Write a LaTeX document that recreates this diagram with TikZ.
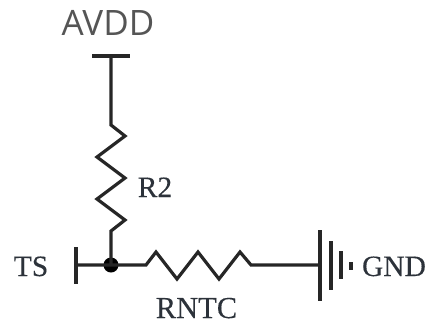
\documentclass[tikz,border=0pt]{standalone}
\usepackage{fontspec}
\setmainfont[FakeBold=0.3]{Liberation Serif}
\newfontfamily\avddfont{Open Sans}
\definecolor{wirec}{HTML}{262626}
\definecolor{labelc}{HTML}{2C323A}
\definecolor{avddc}{HTML}{555555}
\tikzset{
  wire/.style={draw=wirec,line width=3.2pt,line join=miter},
  lab/.style={inner sep=0pt,text=labelc,font=\fontsize{29.5}{29.5}\selectfont,anchor=base},
}
\begin{document}
\begin{tikzpicture}[x=1pt,y=-1pt]
\useasboundingbox (0,0) rectangle (427,324);
\node[inner sep=0pt,text=avddc,font=\avddfont\fontsize{35}{35}\selectfont,anchor=base] (avdd) at (108,35) {AVDD};
\coordinate (capL) at (92,56);
\coordinate (capR) at (130,56);
\coordinate (top) at (111,56);
\coordinate (tsL) at (76,247);
\coordinate (tsR) at (76,284);
\coordinate (ts) at (76,265);
\coordinate (gnd) at (320,265);
\node[circle,fill=black,inner sep=0pt,minimum size=15pt] (j) at (111,265) {};
\draw[wire] (capL) -- (capR);
\draw[wire] (top) -- (111,125) -- (125,136) -- (97,157) -- (125,178) -- (97,199) -- (125,220) -- (111,231) -- (j.center);
\draw[wire] (tsL) -- (tsR);
\draw[wire] (ts) -- (j.center) -- (146,265) -- (156,252) -- (177,279) -- (198,252) -- (219,279) -- (240,252) -- (251,265) -- (gnd);
\draw[wire] (320,230) -- (320,301);
\draw[wire] (331,241) -- (331,290);
\draw[wire] (341,251) -- (341,279);
\draw[wire,line width=4pt] (351,262) -- (351,270);
\node[lab] (tsl) at (31,276) {TS};
\node[lab] (r2) at (155,197) {R2};
\node[lab,font=\fontsize{30.5}{30.5}\selectfont] (rntc) at (196.5,318) {RNTC};
\node[lab] (gndl) at (394,276) {GND};
\end{tikzpicture}
\end{document}
